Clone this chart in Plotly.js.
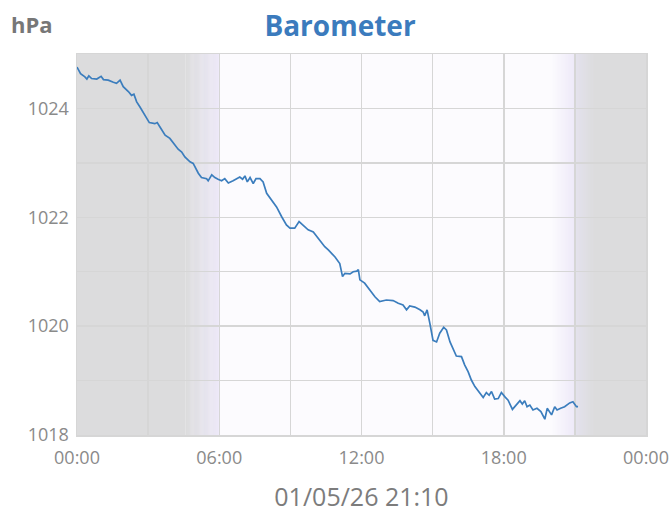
<!DOCTYPE html>
<html>
<head>
<meta charset="utf-8">
<script src="https://cdn.plot.ly/plotly-3.0.1.min.js"></script>
<style>
  html, body { margin: 0; padding: 0; background: #ffffff; }
  #chart { width: 672px; height: 513px; }
</style>
</head>
<body>
<div id="chart"></div>
<script>
// ---- Data ----
const day = "2026-01-05";
const times = [
  "00:00","00:09","00:20","00:25","00:30","00:37","00:50","01:01","01:07","01:19",
  "01:32","01:40","01:49","01:57","02:10","02:18","02:24","02:31","02:39","02:52",
  "03:03","03:17","03:23","03:30","03:43","03:55","04:08","04:16","04:25","04:33",
  "04:46","04:54","05:07","05:15","05:28","05:32","05:41","05:49","05:57","06:06",
  "06:14","06:23","06:35","06:44","06:52","06:59","07:05","07:11","07:18","07:26",
  "07:33","07:43","07:51","08:00","08:12","08:25","08:38","08:50","08:59","09:11",
  "09:22","09:32","09:45","09:58","10:10","10:15","10:27","10:36","10:44","10:53",
  "11:05","11:12","11:18","11:31","11:39","11:48","11:52","11:56","12:08","12:21",
  "12:34","12:46","13:03","13:20","13:33","13:45","13:54","14:02","14:15","14:28",
  "14:36","14:40","14:46","14:53","15:01","15:10","15:18","15:28","15:35","15:44",
  "15:52","16:00","16:13","16:21","16:30","16:38","16:47","16:59","17:08","17:16",
  "17:23","17:29","17:37","17:46","17:54","18:03","18:11","18:22","18:32","18:41",
  "18:47","18:53","18:59","19:06","19:14","19:24","19:34","19:44","19:50","20:01",
  "20:09","20:15","20:24","20:34","20:47","20:55","21:04","21:08"
];
const pressure = [
  1024.76,1024.64,1024.58,1024.54,1024.60,1024.55,1024.54,1024.59,1024.53,1024.52,
  1024.48,1024.46,1024.52,1024.40,1024.31,1024.24,1024.26,1024.12,1024.03,1023.88,
  1023.74,1023.72,1023.74,1023.66,1023.51,1023.45,1023.33,1023.25,1023.20,1023.11,
  1023.02,1022.99,1022.81,1022.73,1022.71,1022.67,1022.78,1022.73,1022.70,1022.67,
  1022.71,1022.63,1022.67,1022.70,1022.74,1022.70,1022.76,1022.65,1022.73,1022.62,
  1022.71,1022.71,1022.65,1022.44,1022.32,1022.19,1022.01,1021.86,1021.80,1021.80,
  1021.92,1021.86,1021.77,1021.73,1021.61,1021.58,1021.46,1021.40,1021.34,1021.27,
  1021.15,1020.91,1020.97,1020.96,1021.00,1021.01,1021.04,1020.85,1020.79,1020.66,
  1020.54,1020.45,1020.48,1020.47,1020.42,1020.39,1020.30,1020.37,1020.35,1020.30,
  1020.26,1020.19,1020.30,1020.05,1019.74,1019.71,1019.87,1019.98,1019.93,1019.71,
  1019.59,1019.45,1019.44,1019.29,1019.16,1019.01,1018.89,1018.77,1018.69,1018.78,
  1018.73,1018.80,1018.66,1018.67,1018.78,1018.70,1018.64,1018.47,1018.55,1018.63,
  1018.57,1018.63,1018.52,1018.55,1018.46,1018.49,1018.43,1018.29,1018.49,1018.37,
  1018.52,1018.46,1018.49,1018.52,1018.59,1018.61,1018.52,1018.52
];
const yTickValues = [1018, 1019, 1020, 1021, 1022, 1023, 1024, 1025];
const yTickLabels = ["1018", "", "1020", "", "1022", "", "1024", ""];
const xTickTimes = ["2026-01-05 00:00", "2026-01-05 03:00", "2026-01-05 06:00", "2026-01-05 09:00",
  "2026-01-05 12:00", "2026-01-05 15:00", "2026-01-05 18:00", "2026-01-05 21:00", "2026-01-06 00:00"];
const xTickLabels = ["00:00", "", "06:00", "", "12:00", "", "18:00", "", "00:00"];
const titleText = "Barometer";
const unitText = "hPa";
const stampText = "01/05/26 21:10";

// ---- Styling: day/night background bands (paper coordinates, fraction of the day) ----
const xs = times.map(t => day + " " + t);
const xStart = "2026-01-05 00:00", xEnd = "2026-01-06 00:00";
const nightCol = [220, 220, 221];
const dayCol = [252, 251, 254];
const duskCol = [237, 233, 248];
const lateCol = [228, 226, 237];
function mix(a, b, f) { return 'rgb(' + a.map((v, i) => Math.round(v + (b[i] - v) * f)).join(',') + ')'; }
const shapes = [];
function band(m0, m1, c) {
  shapes.push({type: 'rect', xref: 'paper', yref: 'paper', x0: m0 / 1440, x1: m1 / 1440, y0: 0, y1: 1,
    fillcolor: c, line: {width: 0}, layer: 'below'});
}
function grad(m0, m1, c0, c1, n) {
  const step = (m1 - m0) / n;
  for (let i = 0; i < n; i++) band(m0 + i * step, m0 + (i + 1) * step + 0.8, mix(c0, c1, (i + 0.5) / n));
}
band(0, 275, mix(nightCol, nightCol, 0));
grad(275, 360, nightCol, duskCol, 30);
grad(1200, 1260, dayCol, duskCol, 24);
grad(1260, 1310, lateCol, nightCol, 20);
band(1310, 1440, mix(nightCol, nightCol, 0));

const gridCol = '#d6d6d6';
const trace = {
  x: xs, y: pressure, type: 'scatter', mode: 'lines',
  line: {color: '#3b7dbd', width: 1.7}, hoverinfo: 'x+y'
};
const layout = {
  width: 672, height: 513,
  margin: {l: 77, r: 26, t: 54, b: 78},
  paper_bgcolor: '#ffffff',
  plot_bgcolor: 'rgb(252,251,254)',
  showlegend: false,
  font: {family: 'Open Sans, sans-serif', color: '#8a8a8a'},
  title: {
    text: '<b>' + titleText + '</b>',
    font: {family: 'Open Sans, sans-serif', size: 28, color: '#3b7bbd'},
    x: 340 / 672, xanchor: 'center', xref: 'container',
    y: 1 - 26 / 513, yanchor: 'middle', yref: 'container'
  },
  xaxis: {
    type: 'date',
    range: [xStart, xEnd],
    tickvals: xTickTimes,
    ticktext: xTickLabels,
    tickfont: {size: 18, color: '#8a8a8a'},
    ticks: '', ticklabelstandoff: 6,
    showgrid: true, gridcolor: gridCol, gridwidth: 1.5,
    showline: true, linecolor: gridCol, linewidth: 1.5, mirror: true,
    zeroline: false, fixedrange: true,
    title: {text: stampText, font: {size: 25, color: '#7c7c7c'}, standoff: 20}
  },
  yaxis: {
    range: [1018, 1025],
    tickvals: yTickValues,
    ticktext: yTickLabels,
    tickfont: {size: 18, color: '#8a8a8a'},
    ticks: '', ticklabelstandoff: 3,
    showgrid: true, gridcolor: gridCol, gridwidth: 1.5,
    showline: true, linecolor: gridCol, linewidth: 1.5, mirror: true,
    zeroline: false, fixedrange: true
  },
  shapes: shapes,
  annotations: [{
    text: '<b>' + unitText + '</b>', xref: 'paper', yref: 'paper',
    x: (9 - 77) / 569, xanchor: 'left', y: 1 + (54 - 24) / 381, yanchor: 'middle',
    showarrow: false, font: {family: 'Open Sans, sans-serif', size: 22, color: '#777777'}
  }]
};
Plotly.newPlot('chart', [trace], layout, {displayModeBar: false, staticPlot: true});
</script>
</body>
</html>
